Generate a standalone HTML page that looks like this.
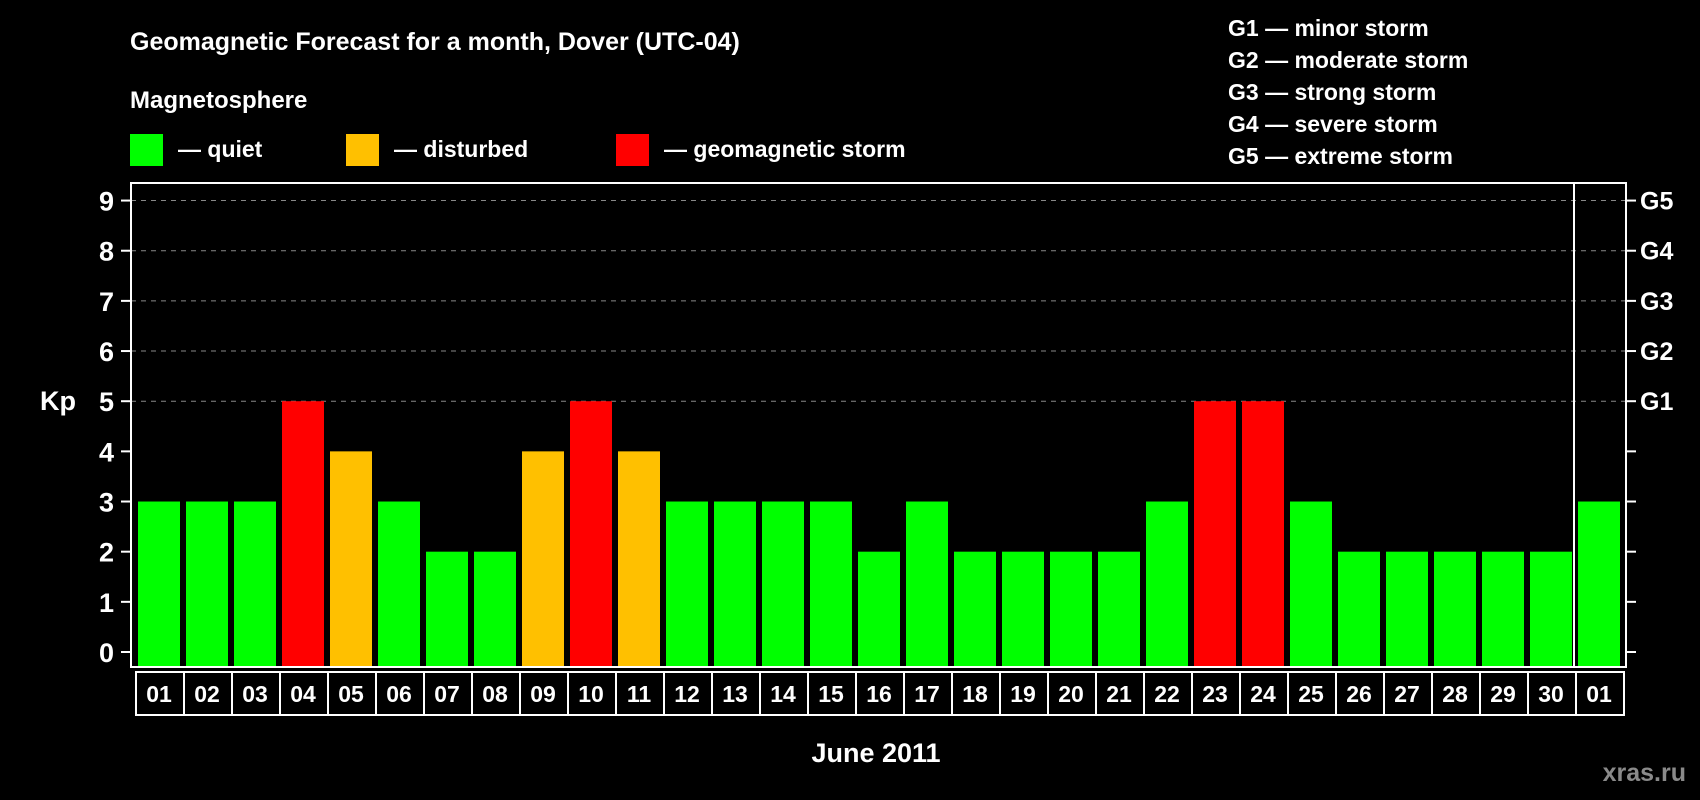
<!DOCTYPE html>
<html><head><meta charset="utf-8"><style>
html,body{margin:0;padding:0;background:#000;}
svg{display:block;font-family:"Liberation Sans",sans-serif;font-weight:bold;}
</style></head><body>
<svg id="chart" width="1700" height="800" viewBox="0 0 1700 800">
<rect width="1700" height="800" fill="#000"/>
<text x="130" y="50" fill="#fff" font-size="25">Geomagnetic Forecast for a month, Dover (UTC-04)</text>
<text x="130" y="108" fill="#fff" font-size="24">Magnetosphere</text>
<rect x="130" y="134" width="33" height="32" fill="#00ff00"/>
<text x="178" y="157" fill="#fff" font-size="23">— quiet</text>
<rect x="346" y="134" width="33" height="32" fill="#ffc000"/>
<text x="394" y="157" fill="#fff" font-size="23">— disturbed</text>
<rect x="616" y="134" width="33" height="32" fill="#ff0000"/>
<text x="664" y="157" fill="#fff" font-size="23">— geomagnetic storm</text>
<g fill="#fff" font-size="23">
<text x="1228" y="36">G1 — minor storm</text>
<text x="1228" y="68">G2 — moderate storm</text>
<text x="1228" y="100">G3 — strong storm</text>
<text x="1228" y="132">G4 — severe storm</text>
<text x="1228" y="164">G5 — extreme storm</text>
</g>
<g id="grid"></g>
<g id="bars"></g>
<rect x="131" y="183" width="1495" height="484" fill="none" stroke="#fff" stroke-width="2"/>
<line x1="1574" y1="183" x2="1574" y2="667" stroke="#fff" stroke-width="2"/>
<g id="axes"></g>
<text x="58" y="410" fill="#fff" font-size="27" text-anchor="middle">Kp</text>
<text x="876" y="762" fill="#fff" font-size="27" text-anchor="middle">June 2011</text>
<text x="1686" y="781" fill="#8a8a8a" font-size="25" text-anchor="end">xras.ru</text>
</svg>
<script>
const days = ["01","02","03","04","05","06","07","08","09","10","11","12","13","14","15","16","17","18","19","20","21","22","23","24","25","26","27","28","29","30","01"];
const kpValues = [3,3,3,5,4,3,2,2,4,5,4,3,3,3,3,2,3,2,2,2,2,3,5,5,3,2,2,2,2,2,3];
const yTicks = [0,1,2,3,4,5,6,7,8,9];
const gLevels = [5,6,7,8,9];
const gLabels = ["G1","G2","G3","G4","G5"];
const NS="http://www.w3.org/2000/svg";
const y0=652, unit=50.16, x0=138, pitch=48, bw=42;
const yScale=v=>y0-v*unit;
const xScale=i=>x0+i*pitch;
function mk(tag,attrs,parent){const e=document.createElementNS(NS,tag);for(const k in attrs)e.setAttribute(k,attrs[k]);parent.appendChild(e);return e;}
const grid=document.getElementById('grid'),bars=document.getElementById('bars'),axes=document.getElementById('axes');
gLevels.forEach((v,i)=>{
  const l=mk('line',{x1:131,x2:1626,y1:yScale(v),y2:yScale(v),stroke:'#888','stroke-width':1,'stroke-dasharray':'5,5'},grid);
  
  
  const t=mk('text',{x:1640,y:yScale(v)+9,fill:'#fff','font-size':25},axes);
  t.textContent=gLabels[i];
  
  
});
yTicks.forEach(v=>{
  const y=yScale(v);
  const t=mk('text',{x:114,y:y+10,fill:'#fff','font-size':27,'text-anchor':'end'},axes);
  t.textContent=v;
  
  
  mk('line',{x1:121,x2:131,y1:y,y2:y,stroke:'#fff','stroke-width':2},axes);
  mk('line',{x1:1626,x2:1636,y1:y,y2:y,stroke:'#fff','stroke-width':2},axes);
});
kpValues.forEach((v,i)=>{
  const c=v>=5?'#ff0000':(v>=4?'#ffc000':'#00ff00');
  const r=mk('rect',{x:xScale(i),y:yScale(v),width:bw,height:667-yScale(v),fill:c},bars);
  
  
  const cell=mk('rect',{x:xScale(i)-2,y:672,width:pitch,height:43,fill:'#000',stroke:'#fff','stroke-width':2},axes);
  
  
  const t=mk('text',{x:xScale(i)+bw/2,y:702,fill:'#fff','font-size':23,'text-anchor':'middle'},axes);
  t.textContent=days[i];
  
  
});
</script>
</body></html>
